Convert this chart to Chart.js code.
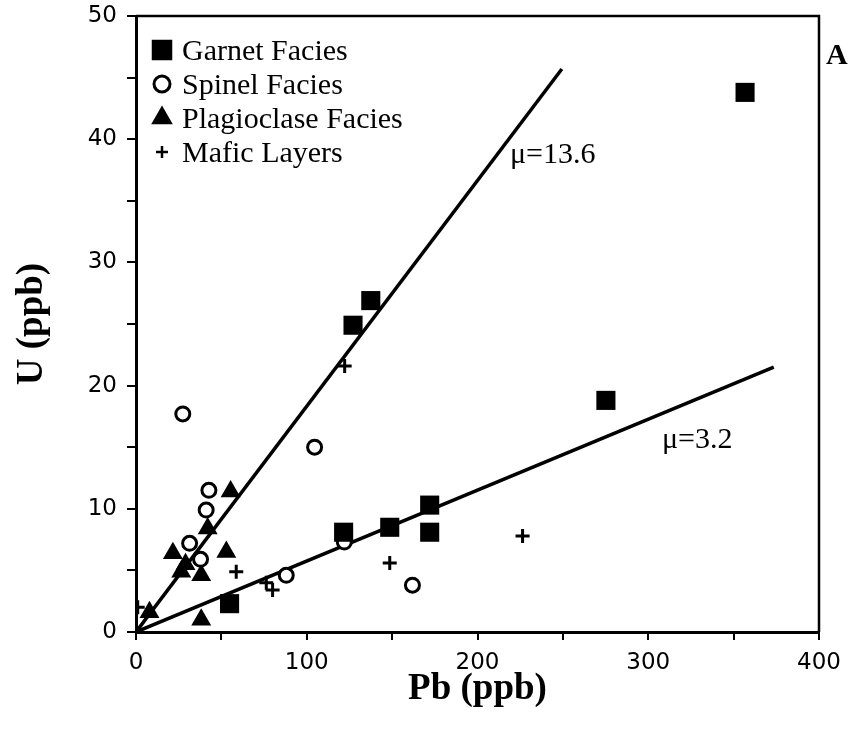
<!DOCTYPE html>
<html>
<head>
<meta charset="utf-8">
<script src="https://cdn.jsdelivr.net/npm/chart.js@4.4.1/dist/chart.umd.min.js"></script>
<style>
  html, body { margin: 0; padding: 0; background: #fff; }
  #wrap { width: 856px; height: 731px; }
</style>
</head>
<body>
<div id="wrap"><canvas id="grafico" width="856" height="731"></canvas></div>
<script>
// Dados (Pb em ppb, U em ppb)
const garnetPb = [54.8, 121.6, 127.1, 137.5, 148.6, 172, 172, 275.2, 356.7];
const garnetU  = [2.3, 8.1, 24.9, 26.9, 8.5, 10.3, 8.1, 18.8, 43.8];

const spinelPb = [27.4, 31.4, 37.8, 41.1, 42.7, 88, 104.6, 122, 161.9];
const spinelU  = [17.7, 7.2, 5.9, 9.9, 11.5, 4.6, 15.0, 7.3, 3.8];

const plagPb = [7.9, 21.6, 26.5, 29, 38.2, 38.2, 42, 52.9, 55.4];
const plagU  = [1.6, 6.4, 4.9, 5.5, 4.6, 1.0, 8.4, 6.5, 11.4];

const maficPb = [1, 58.7, 76.3, 80, 122.2, 148.6, 226.4];
const maficU  = [2.0, 4.9, 4.0, 3.4, 21.6, 5.6, 7.8];

// Retas de referência (extremidades)
const mu136Pb = [0, 249.4];
const mu136U  = [0, 45.7];
const mu32Pb  = [0, 373.5];
const mu32U   = [0, 21.5];

const legendLabels = ['Garnet Facies', 'Spinel Facies', 'Plagioclase Facies', 'Mafic Layers'];

const pontos = (xs, ys) => xs.map((x, i) => ({ x: x, y: ys[i] }));

const estilos = [
    { pointStyle: 'rect', radius: 13.5, borderWidth: 0, fill: '#000' },
    { pointStyle: 'circle', radius: 7, borderWidth: 3, fill: '#fff' },
    { pointStyle: 'triangle', radius: 11.5, borderWidth: 0, fill: '#000' },
    { pointStyle: 'cross', radius: 7, borderWidth: 3, fill: '#000' }
];
const seriesDados = [pontos(garnetPb, garnetU), pontos(spinelPb, spinelU), pontos(plagPb, plagU), pontos(maficPb, maficU)];

const datasets = seriesDados.map((d, i) => ({
    type: 'scatter',
    label: legendLabels[i],
    data: d,
    pointStyle: estilos[i].pointStyle,
    pointRadius: estilos[i].radius,
    pointHoverRadius: estilos[i].radius,
    pointBorderWidth: estilos[i].borderWidth,
    pointBackgroundColor: estilos[i].fill,
    pointBorderColor: '#000',
    order: 1
}));

[[mu136Pb, mu136U], [mu32Pb, mu32U]].forEach(([xs, ys]) => {
    datasets.push({
        type: 'line',
        data: pontos(xs, ys),
        borderColor: '#000',
        borderWidth: 3.5,
        pointRadius: 0,
        fill: false,
        order: 10
    });
});

// Plugin: moldura, legenda interna e anotações
const extras = {
    id: 'extras',
    afterDatasetsDraw(chart) {
        const ctx = chart.ctx;
        const a = chart.chartArea;
        const sx = chart.scales.x, sy = chart.scales.y;
        ctx.save();
        // moldura
        ctx.strokeStyle = '#000';
        ctx.lineWidth = 2.5;
        ctx.beginPath();
        ctx.moveTo(a.left, a.top);
        ctx.lineTo(a.right, a.top);
        ctx.lineTo(a.right, a.bottom);
        ctx.stroke();

        // legenda
        ctx.font = '30px "Liberation Serif", serif';
        ctx.textBaseline = 'middle';
        ctx.textAlign = 'left';
        const legY = [50, 84, 118, 152];
        const legR = [14.5, 8, 12.5, 6];
        legendLabels.forEach((t, i) => {
            ctx.fillStyle = estilos[i].fill;
            ctx.strokeStyle = '#000';
            ctx.lineWidth = i === 3 ? 2.5 : estilos[i].borderWidth;
            Chart.helpers.drawPoint(ctx, {
                pointStyle: estilos[i].pointStyle,
                radius: legR[i],
                borderWidth: i === 3 ? 2.5 : estilos[i].borderWidth,
                rotation: 0
            }, 162, legY[i]);
            ctx.fillStyle = '#000';
            ctx.fillText(t, 182, legY[i] + 2);
        });

        // rótulos das retas
        ctx.font = '30px "Liberation Serif", serif';
        ctx.fillText('\u03bc=13.6', sx.getPixelForValue(219), sy.getPixelForValue(38.7));
        ctx.fillText('\u03bc=3.2', sx.getPixelForValue(308), sy.getPixelForValue(15.6));

        // letra do painel
        ctx.font = 'bold 30px "Liberation Serif", serif';
        ctx.fillText('A', 826, 56);
        ctx.restore();
    }
};

const ctx = document.getElementById('grafico').getContext('2d');
const chart = new Chart(ctx, {
    data: { datasets: datasets },
    options: {
        responsive: false,
        animation: false,
        events: [],
        layout: { padding: { top: 16, right: 37, left: 0, bottom: 0 } },
        plugins: { legend: { display: false }, tooltip: { enabled: false } },
        scales: {
            x: {
                type: 'linear',
                min: 0,
                max: 400,
                afterFit: s => { s.height = 99; },
                border: { display: true, color: '#000', width: 3 },
                grid: { display: true, drawOnChartArea: false, color: '#000', lineWidth: 2, tickLength: 8 },
                ticks: {
                    stepSize: 50,
                    padding: 9,
                    color: '#000',
                    font: { family: '"DejaVu Sans", sans-serif', size: 23 },
                    callback: v => (v % 100 === 0 ? String(v) : '')
                },
                title: {
                    display: true,
                    text: 'Pb (ppb)',
                    color: '#000',
                    font: { family: '"Liberation Serif", serif', size: 37, weight: 'bold' },
                    padding: { top: 0, bottom: 19 }
                }
            },
            y: {
                type: 'linear',
                min: 0,
                max: 50,
                afterFit: s => { s.width = 136; s.paddingTop = 0; s.paddingBottom = 0; },
                border: { display: true, color: '#000', width: 3 },
                grid: { display: true, drawOnChartArea: false, color: '#000', lineWidth: 2, tickLength: 9 },
                ticks: {
                    stepSize: 5,
                    padding: 10,
                    color: '#000',
                    font: { family: '"DejaVu Sans", sans-serif', size: 23 },
                    callback: v => (v % 10 === 0 ? String(v) : '')
                },
                title: {
                    display: true,
                    text: 'U (ppb)',
                    color: '#000',
                    font: { family: '"Liberation Serif", serif', size: 37, weight: 'bold' },
                    padding: { top: 10, bottom: 0 }
                }
            }
        }
    },
    plugins: [extras]
});
</script>
</body>
</html>
